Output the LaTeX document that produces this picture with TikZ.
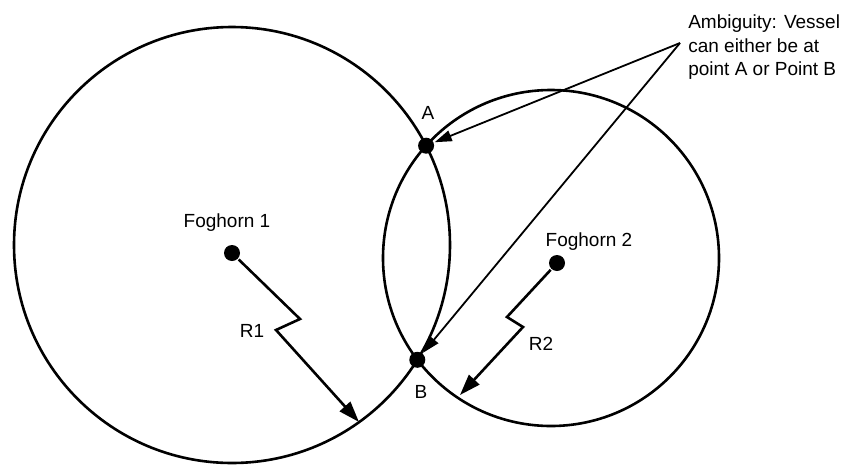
\documentclass[tikz,border=0pt]{standalone}
\usepackage{fontspec}
\setmainfont{Liberation Sans}
\usetikzlibrary{arrows.meta, positioning}
\tikzset{
  every picture/.style={x=1pt, y=-1pt, line width=2.6pt},
  dot/.style={circle, fill=black, inner sep=0pt, minimum size=16pt},
  lbl/.style={font=\fontsize{19}{23.5}\selectfont, inner sep=0pt},
  rangearrow/.style={-{Triangle[length=21pt, width=14pt]}, line width=2.6pt},
  callout/.style={-{Triangle[length=17pt, width=11pt]}, line width=1.8pt},
}

\begin{document}
\begin{tikzpicture}
  \useasboundingbox (0,0) rectangle (847,464);
  % the two range circles
  \coordinate (c1) at (232,245);
  \coordinate (c2) at (551,258);
  \draw (c1) circle[radius=218];
  \draw (c2) circle[radius=168];
  % foghorns and the two possible positions
  \node[dot] (f1) at (232,253) {};
  \node[dot] (f2) at (557,263) {};
  \node[dot] (pA) at (426.1,145.7) {};
  \node[dot] (pB) at (417.3,359.8) {};
  \node[lbl, anchor=base] (f1lbl) at (227,227) {Foghorn 1};
  \node[lbl, anchor=base] (f2lbl) at (589,246) {Foghorn 2};
  \node[lbl, anchor=base] (albl) at (428,119) {A};
  \node[lbl, anchor=base] (blbl) at (421,398) {B};
  % ranges
  \coordinate (z1a) at (300,319);
  \coordinate (z1b) at (276,330);
  \coordinate (r1end) at (359,422);
  \draw[rangearrow] (f1) -- (z1a) -- (z1b) -- (r1end);
  \node[lbl, anchor=base] (r1lbl) at (252,337) {R1};
  \coordinate (z2a) at (507,317);
  \coordinate (z2b) at (523,327);
  \coordinate (r2end) at (460,395);
  \draw[rangearrow] (f2) -- (z2a) -- (z2b) -- (r2end);
  \node[lbl, anchor=base] (r2lbl) at (541,350) {R2};
  % callout
  \node[lbl, anchor=north west, align=left] (note) at (687,13.5) {Ambiguity: Vessel\\can either be at\\point A or Point B};
  \coordinate (tip) at (680,43);
  \draw[callout] (tip) -- (pA);
  \draw[callout] (tip) -- (pB);
\end{tikzpicture}
\end{document}
